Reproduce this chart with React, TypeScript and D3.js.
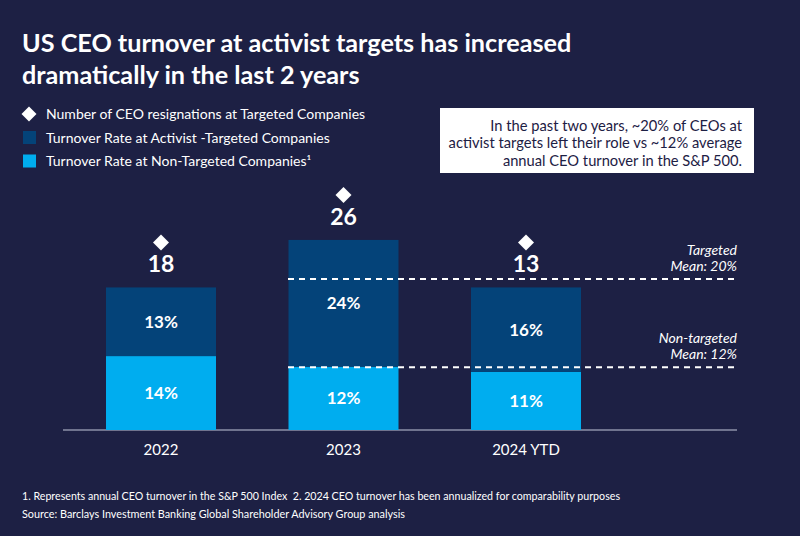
import React from "react";
import * as d3 from "d3";

const categories = ["2022", "2023", "2024 YTD"];
const nonTargeted = [14, 12, 11];
const activistTop = [13, 24, 16];
const resignations = [18, 26, 13];
const meanLines = [
  { value: 28.6, label1: "Targeted", label2: "Mean: 20%" },
  { value: 11.9, label1: "Non-targeted", label2: "Mean: 12%" },
];
const titleLines = ["US CEO turnover at activist targets has increased", "dramatically in the last 2 years"];
const legendItems = [
  { kind: "diamond", text: "Number of CEO resignations at Targeted Companies" },
  { kind: "dark", text: "Turnover Rate at Activist -Targeted Companies" },
  { kind: "light", text: "Turnover Rate at Non-Targeted Companies\u00b9" },
];
const boxLines = [
  "In the past two years, ~20% of CEOs at",
  "activist targets left their role vs ~12% average",
  "annual CEO turnover in the S&P 500.",
];
const footLines = [
  "1. Represents annual CEO turnover in the S&P 500 Index \u00a02. 2024 CEO turnover has been annualized for comparability purposes",
  "Source: Barclays Investment Banking Global Shareholder Advisory Group analysis",
];
const footWidths = [598, 383];

const BG = "#1d2044";
const DARK = "#044379";
const LIGHT = "#00adef";
const FONT = "Lato, 'Open Sans', sans-serif";

export default function App() {
  const W = 800, H = 536;
  const x = d3.scalePoint<string>().domain(categories).range([161, 526]);
  const y = d3.scaleLinear().domain([0, 10]).range([430, 377.2]);
  const bw = 110;
  const stack = categories.map((c, i) => ({
    c,
    low: nonTargeted[i],
    high: activistTop[i],
    total: nonTargeted[i] + activistTop[i],
    n: resignations[i],
  }));
  const diamond = (cx: number, cy: number, r: number) =>
    `M${cx},${cy - r}L${cx + r},${cy}L${cx},${cy + r}L${cx - r},${cy}Z`;

  return (
    <svg width={W} height={H} style={{ display: "block", position: "absolute", left: 0, top: 0 }} fontFamily={FONT}>
      <rect width={W} height={H} fill={BG} />
      {titleLines.map((t, i) => (
        <text key={t} x={22} y={52 + i * 31.5} fill="#fff" fontSize={25.2} fontWeight={700}>
          {t}
        </text>
      ))}
      {legendItems.map((l, i) => {
        const cy = 114 + i * 23.5;
        return (
          <g key={l.text}>
            {l.kind === "diamond" ? (
              <path d={diamond(29, cy, 7.5)} fill="#fff" />
            ) : (
              <rect x={23} y={cy - 6.5} width={13} height={13} fill={l.kind === "dark" ? DARK : LIGHT} />
            )}
            <text x={46} y={cy + 5} fill="#fff" fontSize={14}>
              {l.text}
            </text>
          </g>
        );
      })}
      <rect x={440} y={108} width={314} height={65} fill="#fff" />
      {boxLines.map((t, i) => (
        <text key={t} x={742} y={130.5 + i * 17.5} fill="#1d2044" fontSize={14.7} textAnchor="end">
          {t}
        </text>
      ))}
      <line x1={63} x2={737} y1={y(0)} y2={y(0)} stroke="#8d90a8" strokeWidth={1.5} />
      {stack.map((s) => {
        const cx = x(s.c)!;
        return (
          <g key={s.c}>
            <rect x={cx - bw / 2} y={y(s.low)} width={bw} height={y(0) - y(s.low)} fill={LIGHT} />
            <rect x={cx - bw / 2} y={y(s.total)} width={bw} height={y(s.low) - y(s.total)} fill={DARK} />
            <text x={cx} y={(y(0) + y(s.low)) / 2 + 6} fill="#fff" fontSize={17} fontWeight={700} textAnchor="middle">
              {s.low}%
            </text>
            <text x={cx} y={(y(s.low) + y(s.total)) / 2 + 6} fill="#fff" fontSize={17} fontWeight={700} textAnchor="middle">
              {s.high}%
            </text>
            <text x={cx} y={y(s.total) - 15} fill="#fff" fontSize={23} fontWeight={700} textAnchor="middle">
              {s.n}
            </text>
            <path d={diamond(cx, y(s.total) - 45, 8)} fill="#fff" />
            <text x={cx} y={455} fill="#fff" fontSize={15} textAnchor="middle">
              {s.c}
            </text>
          </g>
        );
      })}
      {meanLines.map((m) => (
        <g key={m.label1}>
          <line
            x1={288}
            x2={737}
            y1={y(m.value)}
            y2={y(m.value)}
            stroke="#fff"
            strokeWidth={2}
            strokeDasharray="6 5"
          />
          <text x={737} y={y(m.value) - 24} fill="#fff" fontSize={14} fontStyle="italic" textAnchor="end">
            {m.label1}
          </text>
          <text x={737} y={y(m.value) - 8} fill="#fff" fontSize={14} fontStyle="italic" textAnchor="end">
            {m.label2}
          </text>
        </g>
      ))}
      {footLines.map((t, i) => (
        <text
          key={t}
          x={22}
          y={500 + i * 18}
          fill="#fff"
          fontSize={11.5}
          textLength={footWidths[i]}
          lengthAdjust="spacingAndGlyphs"
        >
          {t}
        </text>
      ))}
    </svg>
  );
}
